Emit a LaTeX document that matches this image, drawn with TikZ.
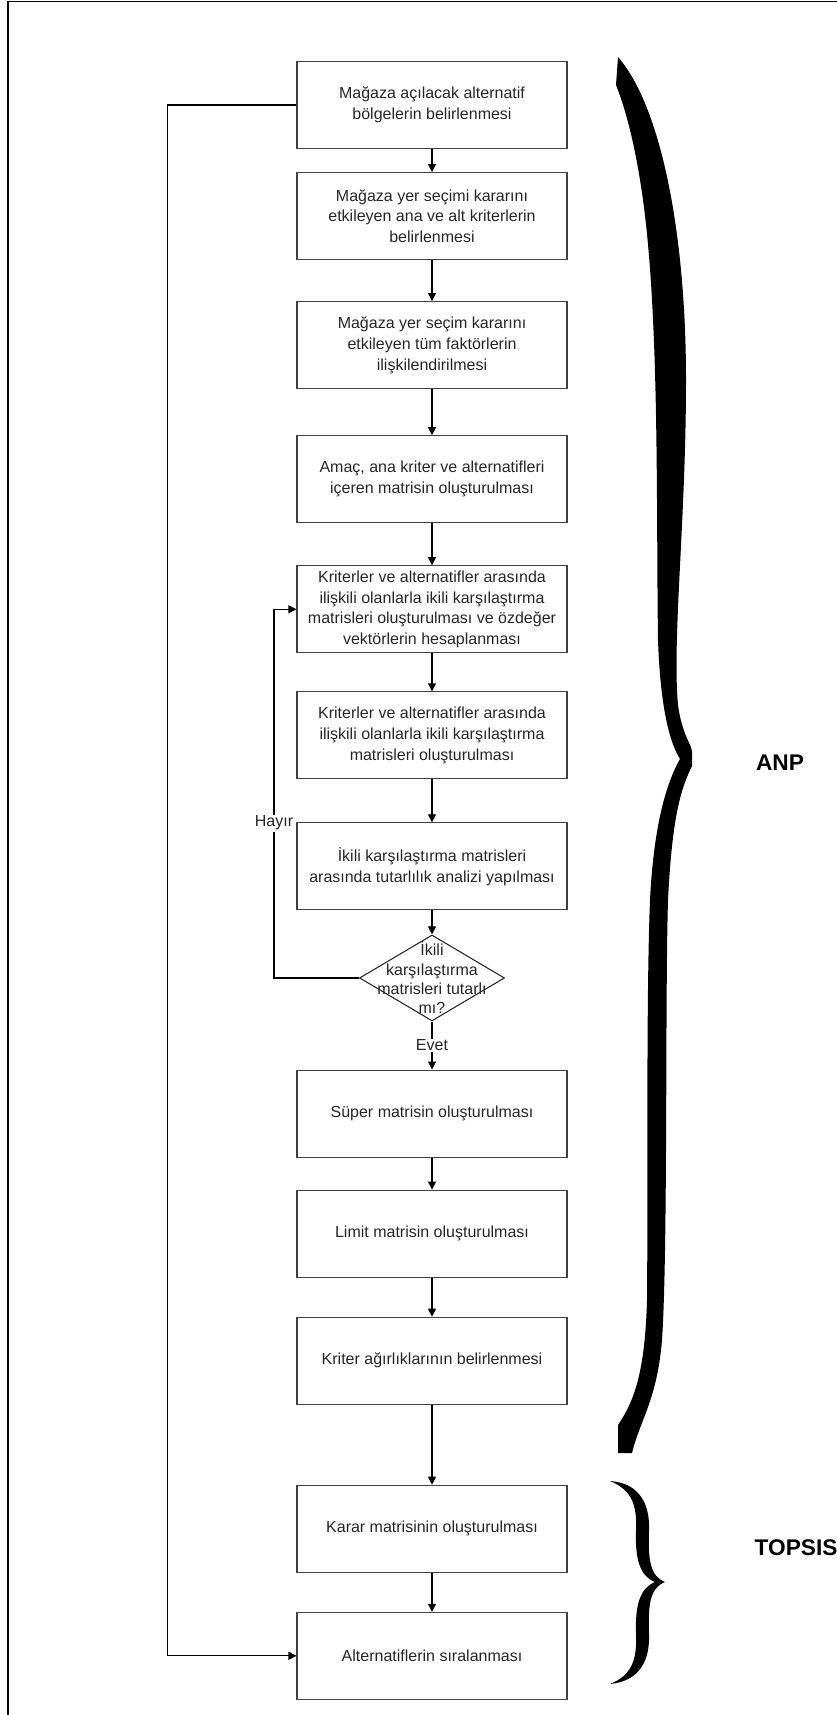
\documentclass[tikz,border=0pt]{standalone}
\usepackage{fontspec}
\setmainfont{Liberation Sans}
\usetikzlibrary{shapes.geometric, arrows.meta, positioning}

\begin{document}
\begin{tikzpicture}[
  x=0.75pt, y=-0.75pt,
  node distance=30pt,
  proc/.style={rectangle, draw=black!75, line width=0.8pt, minimum width=202.5pt, minimum height=65.25pt, align=center, inner sep=2pt, text=black!85, font=\fontsize{12}{15.5}\selectfont},
  dec/.style={diamond, draw=black!85, line width=0.8pt, minimum width=108.75pt, minimum height=64.5pt, inner sep=0pt},
  arrow/.style={-{Triangle[length=6pt, width=6pt]}, line width=0.8pt},
  lbl/.style={fill=white, inner sep=1pt, text=black!85, font=\fontsize{12}{15.5}\selectfont},
  big/.style={font=\fontsize{17}{20}\selectfont\bfseries}
]
  \useasboundingbox (0,0) rectangle (837,1715);
  \draw[line width=0.9pt] (837,1.5) -- (8,1.5) -- (8,1715);

  \node[proc] (alt) at (432,105) {Mağaza açılacak alternatif\\bölgelerin belirlenmesi};
  \node[proc, below=17.25pt of alt] (krt) {Mağaza yer seçimi kararını\\etkileyen ana ve alt kriterlerin\\belirlenmesi};
  \node[proc, below=30.75pt of krt] (fak) {Mağaza yer seçim kararını\\etkileyen tüm faktörlerin\\ilişkilendirilmesi};
  \node[proc, below=34.5pt of fak] (mat) {Amaç, ana kriter ve alternatifleri\\içeren matrisin oluşturulması};
  \node[proc, below=31.5pt of mat] (ikl) {Kriterler ve alternatifler arasında\\ilişkili olanlarla ikili karşılaştırma\\matrisleri oluşturulması ve özdeğer\\vektörlerin hesaplanması};
  \node[proc, below=28.5pt of ikl] (kar) {Kriterler ve alternatifler arasında\\ilişkili olanlarla ikili karşılaştırma\\matrisleri oluşturulması};
  \node[proc, below=32.25pt of kar] (tut) {İkili karşılaştırma matrisleri\\arasında tutarlılık analizi yapılması};
  \node[dec, below=18pt of tut] (chk) {};
  \node[align=center, text=black!85, font=\fontsize{12}{14.5}\selectfont] (chktxt) at (chk) {İkili\\karşılaştırma\\matrisleri tutarlı\\mı?};
  \node[proc, below=36pt of chk] (sup) {Süper matrisin oluşturulması};
  \node[proc, below=24pt of sup] (lim) {Limit matrisin oluşturulması};
  \node[proc, below=29.25pt of lim] (agr) {Kriter ağırlıklarının belirlenmesi};
  \node[proc, below=60pt of agr] (krr) {Karar matrisinin oluşturulması};
  \node[proc, below=29.25pt of krr] (sir) {Alternatiflerin sıralanması};

  \draw[arrow] (alt) -- (krt);
  \draw[arrow] (krt) -- (fak);
  \draw[arrow] (fak) -- (mat);
  \draw[arrow] (mat) -- (ikl);
  \draw[arrow] (ikl) -- (kar);
  \draw[arrow] (kar) -- (tut);
  \draw[arrow] (tut) -- (chk);
  \draw[arrow] (chk) -- node[lbl] (evet) {Evet} (sup);
  \draw[arrow] (chk.west) -- ++(-85,0) |- node[lbl, pos=0.21] (hayir) {Hayır} (ikl.west);
  \draw[arrow] (sup) -- (lim);
  \draw[arrow] (lim) -- (agr);
  \draw[arrow] (agr) -- (krr);
  \draw[arrow] (krr) -- (sir);
  \draw[arrow] (alt.west) -- ++(-129,0) |- (sir.west);

  % ANP brace
  \fill (618,57) .. controls (660,105) and (686,230) .. (686,380)
    .. controls (686,520) and (672,640) .. (678,705)
    .. controls (682,735) and (692,745) .. (692,752) -- (692,766)
    .. controls (680,790) and (672,820) .. (668,900)
    .. controls (665,1000) and (668,1250) .. (662,1340)
    .. controls (657,1400) and (640,1420) .. (632,1453) -- (618,1453)
    -- (618,1425) .. controls (635,1400) and (645,1370) .. (647,1300)
    .. controls (648,1200) and (646,1000) .. (650,900)
    .. controls (654,820) and (668,780) .. (680,759)
    .. controls (668,740) and (660,700) .. (658,640)
    .. controls (656,500) and (660,300) .. (640,180)
    .. controls (632,130) and (622,100) .. (616,85) -- cycle;
  \node[big] (anp) at (780,763) {ANP};

  % TOPSIS brace
  \fill (610,1481) .. controls (640,1483) and (650,1505) .. (649,1530)
    .. controls (648,1560) and (650,1576) .. (665,1582)
    .. controls (650,1588) and (648,1604) .. (649,1634)
    .. controls (650,1660) and (640,1681) .. (610,1684)
    .. controls (632,1675) and (637,1660) .. (636,1634)
    .. controls (635,1605) and (640,1588) .. (655,1582)
    .. controls (640,1576) and (635,1560) .. (636,1530)
    .. controls (637,1505) and (632,1490) .. (610,1481) -- cycle;
  \node[big, anchor=west] (topsis) at (750,1548) {TOPSIS};
\end{tikzpicture}
\end{document}
